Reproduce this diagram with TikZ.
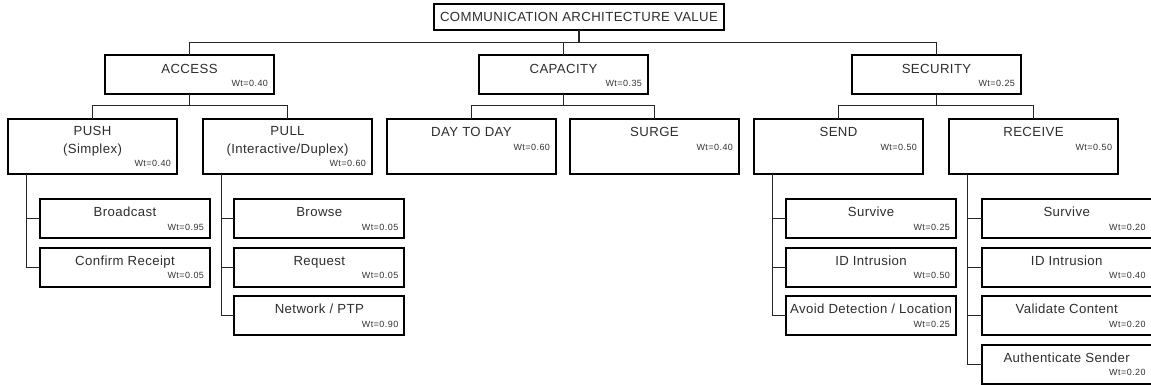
\documentclass[tikz,border=0pt]{standalone}
\usepackage{fontspec}
\setmainfont{Liberation Sans}
\newfontfamily\ttlfont[LetterSpace=3]{Liberation Sans}
\newfontfamily\wtfont[LetterSpace=5]{Liberation Sans}

\tikzset{
  box/.style={draw=black, line width=1.8pt, rectangle, inner sep=0pt, outer sep=0pt, fill=white},
  ttl/.style={inner sep=0pt, outer sep=0pt, align=center, text=black!82,
              font=\ttlfont\fontsize{13.2}{18}\selectfont},
  wt/.style={inner sep=0pt, outer sep=0pt, text=black!80,
             font=\wtfont\fontsize{9}{10}\selectfont},
  conn/.style={draw=black!85, line width=1.3pt}
}

% weighted box: name, left x, top y, width, height, title, weight, weight baseline offset
% (the title's last line sits 13.6 above the weight line)
\newcommand\wbox[8]{%
  \node[box, minimum width=#4pt, minimum height=#5pt, anchor=north west] (#1) at (#2,#3) {};
  \node[ttl, anchor=base] (#1-t) at ([shift={(0,#8-13.6)}]#1.north) {#6};
  \node[wt, anchor=base east] (#1-w) at ([shift={(-6,#8)}]#1.north east) {Wt=#7};
}

\begin{document}
\begin{tikzpicture}[x=1pt, y=-1pt]
\useasboundingbox (0,0) rectangle (1151,385);

% top of the hierarchy
\node[box, minimum width=290pt, minimum height=26pt, anchor=north west] (root) at (434,4) {};
\node[ttl, anchor=base] (root-t) at ([yshift=-17.8pt]root.north) {COMMUNICATION ARCHITECTURE VALUE};

% first level
\wbox{access}{105}{55}{169}{39}{ACCESS}{0.40}{31.8}
\wbox{capacity}{479}{55}{169}{39}{CAPACITY}{0.35}{31.8}
\wbox{security}{852}{55}{169}{39}{SECURITY}{0.25}{31.8}

% second level
\wbox{push}{8}{119}{169}{55}{PUSH\\(Simplex)}{0.40}{47.8}
\wbox{pull}{203}{119}{169}{55}{PULL\\(Interactive/Duplex)}{0.60}{47.8}
\wbox{day}{387}{119}{169}{55}{DAY TO DAY}{0.60}{31.3}
\wbox{surge}{570}{119}{169}{55}{SURGE}{0.40}{31.3}
\wbox{send}{754}{119}{169}{55}{SEND}{0.50}{31.3}
\wbox{receive}{949}{119}{169}{55}{RECEIVE}{0.50}{31.3}

% third level
\wbox{bcast}{40}{199.3}{170}{39}{Broadcast}{0.95}{31}
\wbox{confirm}{40}{247.8}{170}{39}{Confirm Receipt}{0.05}{31}

\wbox{browse}{234.3}{199.3}{170}{39}{Browse}{0.05}{31}
\wbox{request}{234.3}{247.8}{170}{39}{Request}{0.05}{31}
\wbox{network}{234.3}{296.3}{170}{39}{Network / PTP}{0.90}{31}

\wbox{ssurvive}{786}{199.3}{170}{39}{Survive}{0.25}{31}
\wbox{sintrusion}{786}{247.8}{170}{39}{ID Intrusion}{0.50}{31}
\wbox{savoid}{786}{296.3}{170}{39}{Avoid Detection / Location}{0.25}{31}

\wbox{rsurvive}{981.7}{199.3}{170}{39}{Survive}{0.20}{31}
\wbox{rintrusion}{981.7}{247.8}{170}{39}{ID Intrusion}{0.40}{31}
\wbox{rvalidate}{981.7}{296.3}{170}{39}{Validate Content}{0.20}{31}
\wbox{rauth}{981.7}{344.8}{170}{39}{Authenticate Sender}{0.20}{31}

% root to first level
\draw[conn] (root.south) -- ++(0,12.3) -| (access.north);
\draw[conn] (root.south) -- ++(0,12.3) -| (capacity.north);
\draw[conn] (root.south) -- ++(0,12.3) -| (security.north);

% first level to second level
\draw[conn] (access.south) -- ++(0,11.7) -| (push.north);
\draw[conn] (access.south) -- ++(0,11.7) -| (pull.north);
\draw[conn] (capacity.south) -- ++(0,11.7) -| (day.north);
\draw[conn] (capacity.south) -- ++(0,11.7) -| (surge.north);
\draw[conn] (security.south) -- ++(0,11.7) -| (send.north);
\draw[conn] (security.south) -- ++(0,11.7) -| (receive.north);

% second level to leaves
\foreach \p/\c in {push/bcast, push/confirm,
                   pull/browse, pull/request, pull/network,
                   send/ssurvive, send/sintrusion, send/savoid,
                   receive/rsurvive, receive/rintrusion, receive/rvalidate, receive/rauth}
  \draw[conn] ([xshift=18.7pt]\p.south west) |- (\c.west);
\end{tikzpicture}
\end{document}
